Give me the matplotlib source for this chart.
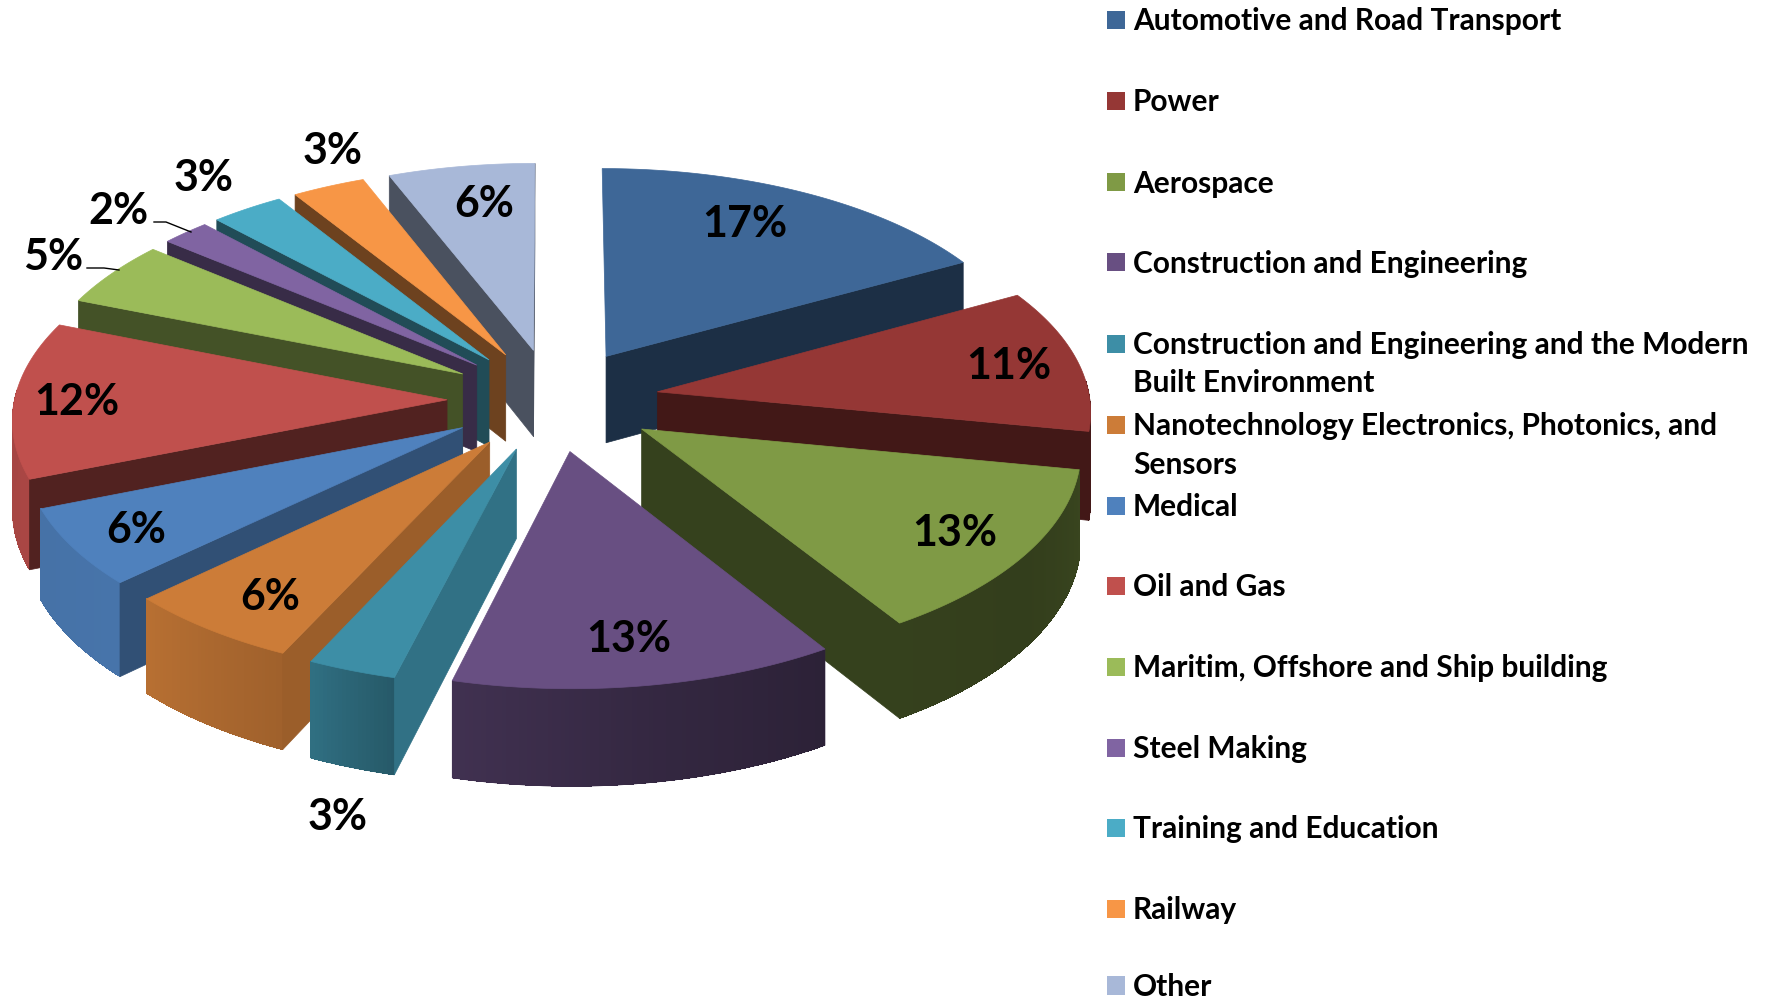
#!/usr/bin/env python3
"""Exploded 3D pie of application sectors, drawn as projected polygons."""

import numpy as np
import matplotlib
matplotlib.use("Agg")
import matplotlib.pyplot as plt
from matplotlib.colors import to_rgb
from matplotlib.patches import Polygon, Rectangle

W, H = 1766, 1001
S = W / 1568  # layout numbers below were measured on the 1568 wide view

sectors = [
    "Automotive and Road Transport",
    "Power",
    "Aerospace",
    "Construction and Engineering",
    "Construction and Engineering and the Modern\nBuilt Environment",
    "Nanotechnology Electronics, Photonics, and\nSensors",
    "Medical",
    "Oil and Gas",
    "Maritim, Offshore and Ship building",
    "Steel Making",
    "Training and Education",
    "Railway",
    "Other",
]
shares = [17, 11, 13, 13, 3, 6, 6, 12, 5, 2, 3, 3, 6]
colors = ["#3e6797", "#953735", "#7f9a45", "#684f82", "#3d8ea6", "#cc7c38", "#4f81bd",
          "#c0504d", "#9bbb59", "#8064a2", "#4bacc6", "#f79646", "#a8b8d8"]

# percent label centres, one per sector
label_x = [661, 896, 848, 558, 300, 240, 121, 68, 47, 105, 181, 295, 430]
label_y = [199, 325, 473, 567, 725, 530, 471, 357, 228, 187, 158, 134, 181]
# legend row centres (first line of each entry)
legend_y = [18, 90, 162, 233, 305, 377, 449, 520, 592, 664, 735, 807, 875]

# Projection
CX, CY = 491 * S, 355 * S
RX, RY = 384 * S, 186 * S
PERSP = 0.08
EXPLODE = 0.245
DEPTH = 78 * S


def project(X, Y, drop=0.0):
    D = 1 + PERSP * Y
    return CX + RX * X / D, CY - RY * Y / D + drop * DEPTH / D


def shade(color, f):
    return tuple(c * f for c in to_rgb(color))


def rim_factor(deg):
    return np.interp(deg, [60, 100, 125, 147, 170, 194, 205, 227, 250, 292],
                     [0.45, 0.45, 0.40, 0.42, 0.50, 0.62, 0.78, 0.90, 0.88, 0.85])


def edge_factor(deg):
    return np.interp(deg, [60, 150, 194, 205, 227, 248, 292], [0.46, 0.42, 0.80, 0.76, 0.62, 0.42, 0.44])


fig = plt.figure(figsize=(W / 100, H / 100), dpi=100)
ax = fig.add_axes([0, 0, 1, 1])
ax.set_xlim(0, W)
ax.set_ylim(H, 0)
ax.axis("off")

plt.rcParams["font.family"] = ["Lato", "DejaVu Sans"]

fracs = np.array(shares) / sum(shares)
ends = np.cumsum(fracs) * 360
starts = ends - fracs * 360
mids = (starts + ends) / 2

# painter's order, back slices first
for i in sorted(range(len(shares)), key=lambda k: -np.cos(np.radians(mids[k]))):
    col = colors[i]
    ox = EXPLODE * np.sin(np.radians(mids[i]))
    oy = EXPLODE * np.cos(np.radians(mids[i]))
    th = np.linspace(starts[i], ends[i], int(ends[i] - starts[i]) * 2 + 2)
    rim_X = ox + np.sin(np.radians(th))
    rim_Y = oy + np.cos(np.radians(th))

    # outer wall: smooth outline first, then thin strips for the shading
    front = np.cos(np.radians((th[:-1] + th[1:]) / 2)) < 0.05
    if front.any():
        keep = np.where(front)[0]
        idx = list(keep) + [keep[-1] + 1]
        outline = [project(rim_X[k], rim_Y[k]) for k in idx] + \
                  [project(rim_X[k], rim_Y[k], 1) for k in reversed(idx)]
        base = shade(col, rim_factor(mids[i]))
        ax.add_patch(Polygon(outline, closed=True, fc=base, ec=base, lw=0.5))
        for j in keep:
            f = shade(col, rim_factor((th[j] + th[j + 1]) / 2))
            strip = [project(rim_X[j], rim_Y[j]), project(rim_X[j + 1], rim_Y[j + 1]),
                     project(rim_X[j + 1], rim_Y[j + 1], 1), project(rim_X[j], rim_Y[j], 1)]
            ax.add_patch(Polygon(strip, closed=True, fc=f, ec="none", lw=0, antialiased=False))

    # radial walls, only the ones that face the viewer
    for edge, visible in ((starts[i], np.sin(np.radians(starts[i])) < 0),
                          (ends[i], np.sin(np.radians(ends[i])) > 0)):
        if not visible:
            continue
        eX, eY = ox + np.sin(np.radians(edge)), oy + np.cos(np.radians(edge))
        wall = [project(ox, oy), project(eX, eY), project(eX, eY, 1), project(ox, oy, 1)]
        f = shade(col, edge_factor(edge))
        ax.add_patch(Polygon(wall, closed=True, fc=f, ec=f, lw=0.5))

    top = [project(ox, oy)] + [project(x, y) for x, y in zip(rim_X, rim_Y)]
    ax.add_patch(Polygon(top, closed=True, fc=col, ec=col, lw=0.5))

for share, x, y in zip(shares, label_x, label_y):
    ax.text(x * S, y * S, f"{share}%", fontsize=31, fontweight="bold", color="black",
            ha="center", va="center")

# leader lines for the two small labels
ax.plot([87, 104, 119], [268, 268, 270], color="black", lw=1)
ax.plot([154, 166, 191], [222, 222, 232], color="black", lw=1)

# legend
for name, col, y in zip(sectors, colors, legend_y):
    ax.add_patch(Rectangle((983 * S, (y - 8) * S), 16 * S, 16 * S, fc=col, ec="none"))
    for n, line in enumerate(name.split("\n")):
        ax.text(1006 * S, (y + 1 + n * 34.5) * S, line, fontsize=21.5, fontweight="bold",
                color="black", ha="left", va="center")

fig.savefig("out.png", dpi=100)
